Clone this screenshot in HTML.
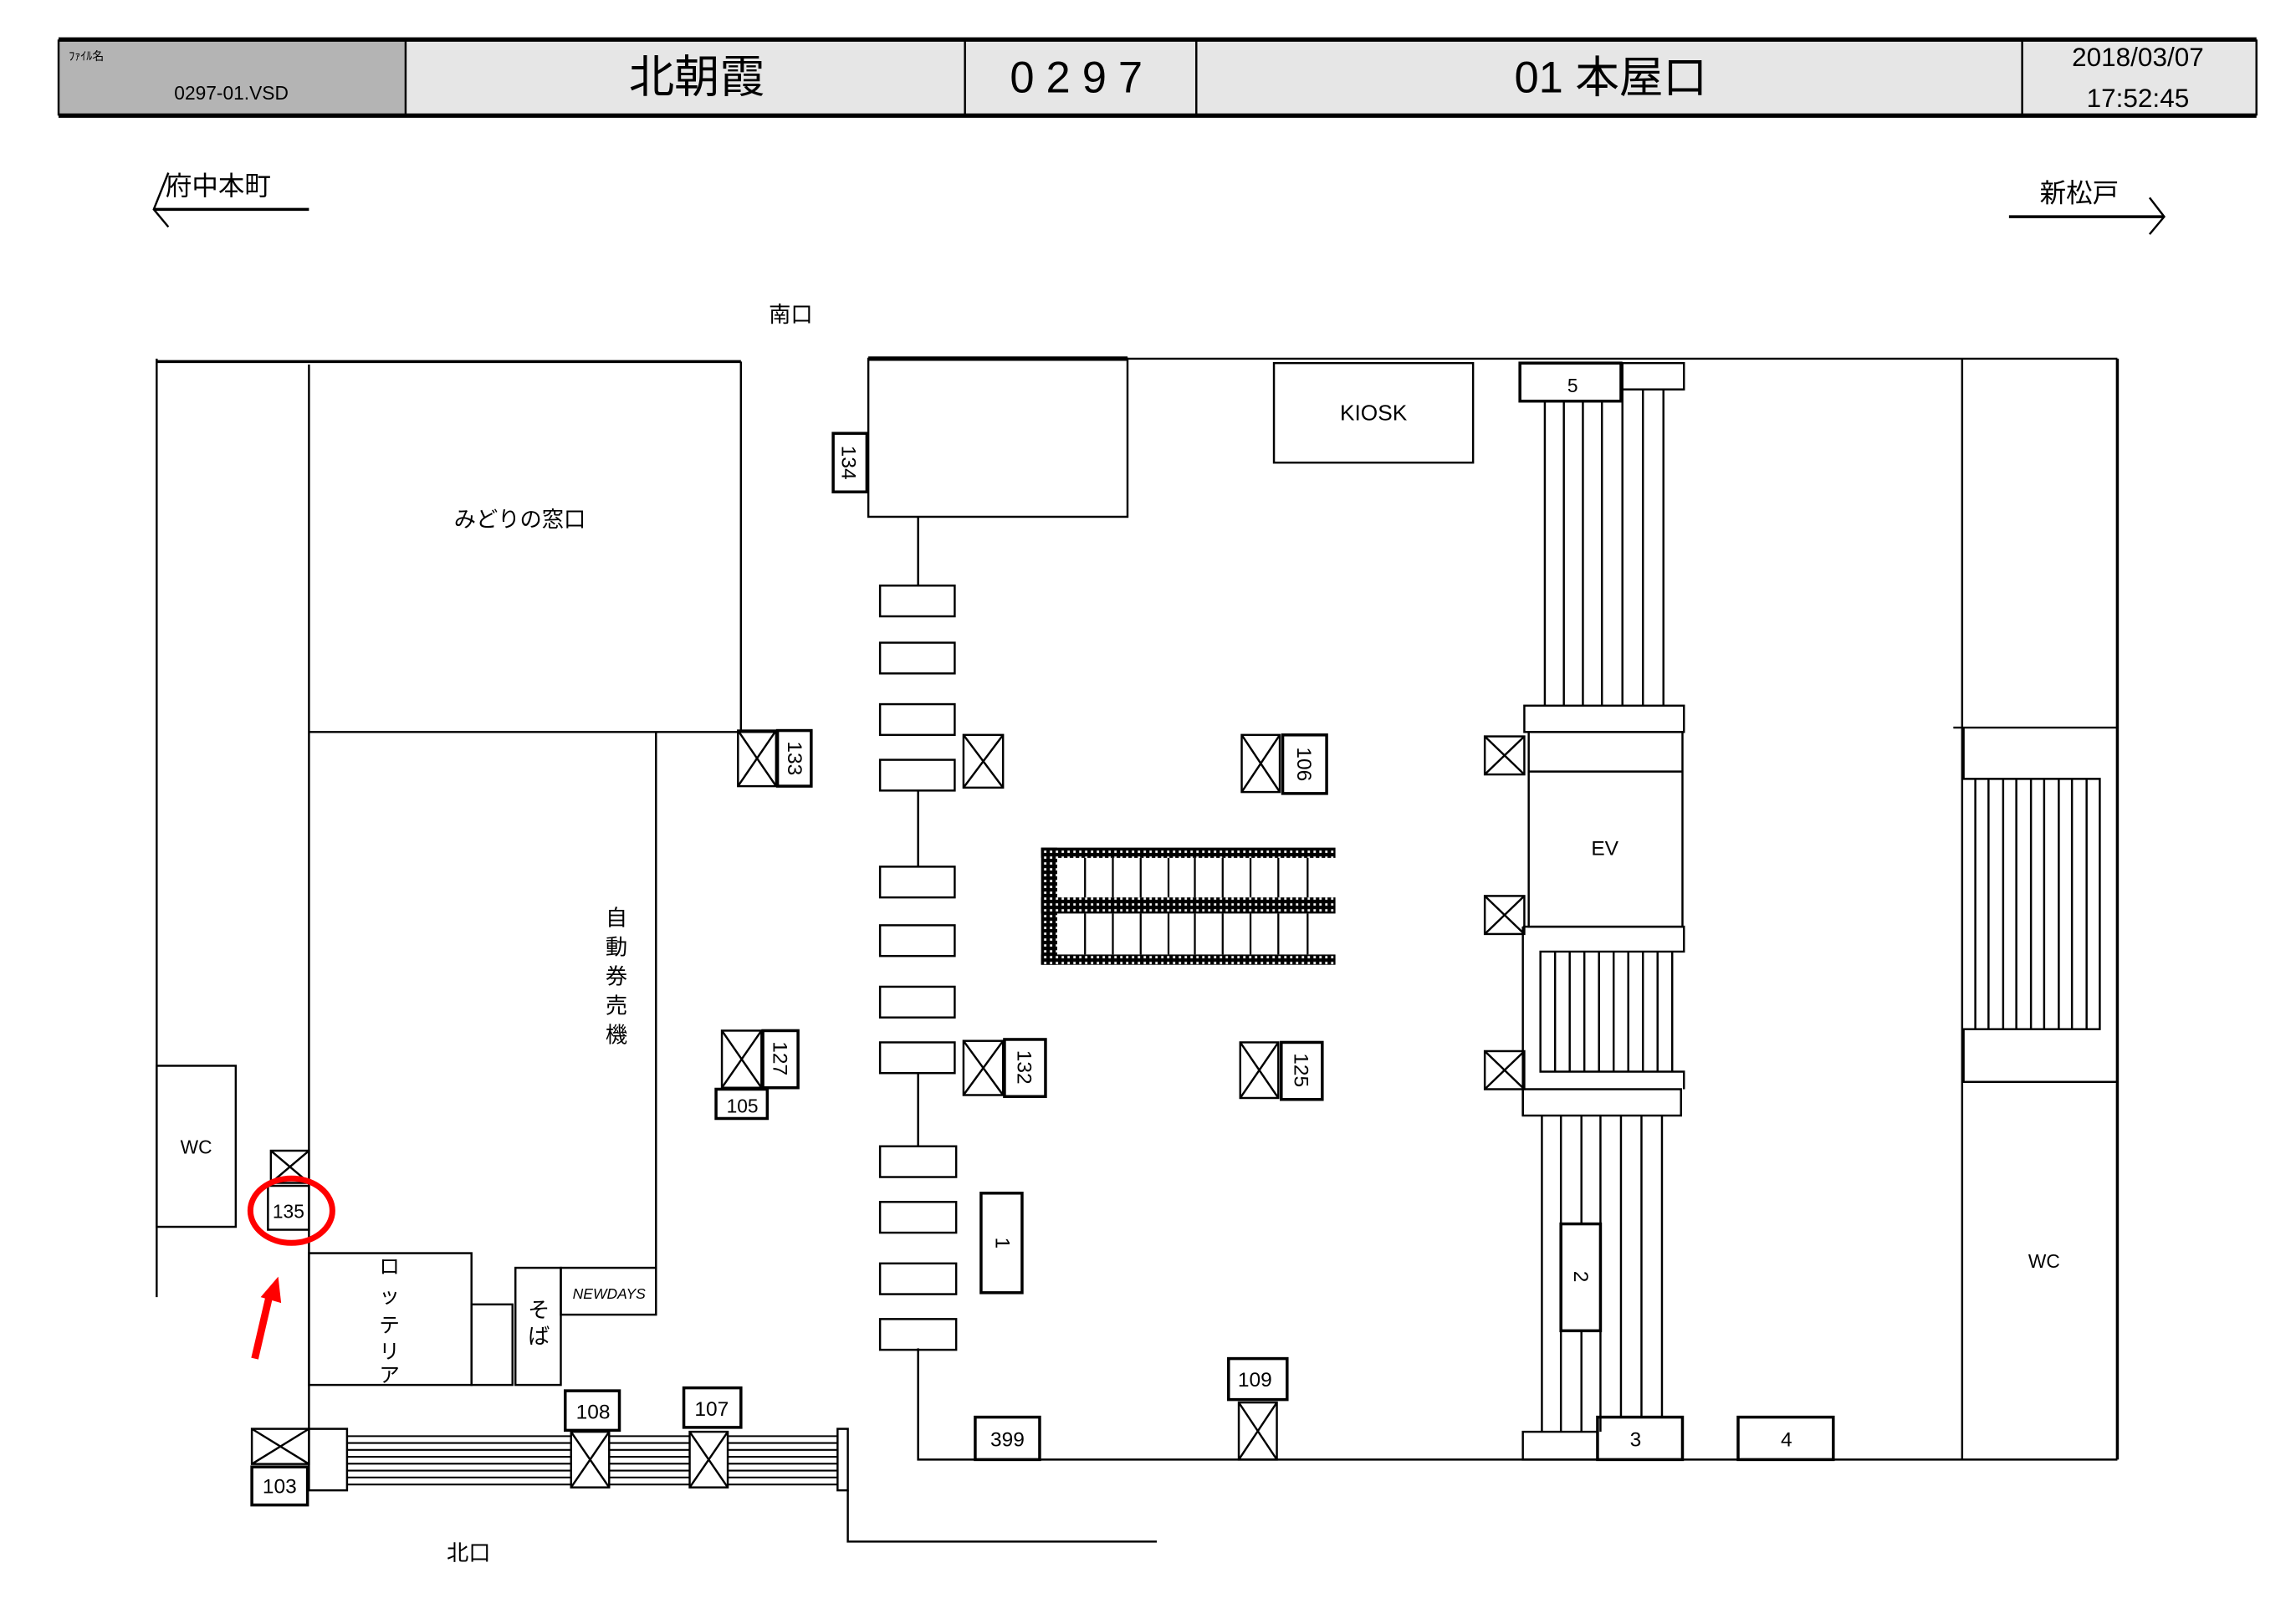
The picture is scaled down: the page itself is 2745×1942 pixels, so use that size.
<!DOCTYPE html>
<html><head><meta charset="utf-8"><style>
html,body{margin:0;padding:0;background:#fff;}
svg{display:block;}
text{font-family:"Liberation Sans","Noto Sans CJK JP",sans-serif;fill:#000;}
</style></head><body>
<svg width="2745" height="1942" viewBox="0 0 1568 1109.3" xmlns="http://www.w3.org/2000/svg">
<defs>
<pattern id="dots" width="4" height="4" patternUnits="userSpaceOnUse">
<rect width="4" height="4" fill="#000"/><rect x="1" y="1" width="1.6" height="1.6" fill="#fff"/>
</pattern>
</defs>
<g stroke="#000" fill="none" stroke-width="1.4">
<!-- header -->
<rect x="40" y="27" width="237" height="52" fill="#b4b4b4" stroke="none"/>
<rect x="277" y="27" width="1264" height="52" fill="#e6e6e6" stroke="none"/>
<line x1="40" y1="27" x2="1541" y2="27" stroke-width="3"/>
<line x1="40" y1="79" x2="1541" y2="79" stroke-width="3"/>
<line x1="40" y1="27" x2="40" y2="79"/>
<line x1="1541" y1="27" x2="1541" y2="79"/>
<line x1="277" y1="27" x2="277" y2="79"/>
<line x1="659" y1="27" x2="659" y2="79"/>
<line x1="817" y1="27" x2="817" y2="79"/>
<line x1="1381" y1="27" x2="1381" y2="79"/>
<!-- direction arrows -->
<line x1="105" y1="143" x2="211" y2="143" stroke-width="2"/>
<polyline points="115,118 105,143 115,155"/>
<line x1="1372" y1="148" x2="1478" y2="148" stroke-width="2"/>
<polyline points="1468,135 1478,148 1468,160"/>
<!-- left block -->
<line x1="107" y1="247" x2="506" y2="247" stroke-width="2"/>
<line x1="107" y1="245" x2="107" y2="886"/>
<line x1="211" y1="249" x2="211" y2="976"/>
<line x1="506" y1="247" x2="506" y2="500"/>
<line x1="211" y1="500" x2="530" y2="500"/>
<line x1="448" y1="500" x2="448" y2="866"/>
<rect x="107" y="728" width="54" height="110"/>
<rect x="185" y="786" width="26" height="22"/><path d="M185 786L211 808M211 786L185 808"/>
<rect x="183" y="810" width="28" height="30"/>
<rect x="211" y="856" width="111" height="90"/>
<rect x="322" y="891" width="28" height="55"/>
<rect x="352" y="866" width="31" height="80"/>
<rect x="383" y="866" width="65" height="32"/>
<!-- bottom escalator -->
<rect x="172" y="976" width="39" height="24"/><path d="M172 976L211 1000M211 976L172 1000"/>
<rect x="172" y="1002" width="38" height="26" stroke-width="2"/>
<rect x="211" y="976" width="26" height="42"/>
<g stroke-width="1.2">
<line x1="237" y1="981" x2="572" y2="981"/><line x1="237" y1="985.7" x2="572" y2="985.7"/>
<line x1="237" y1="990.4" x2="572" y2="990.4"/><line x1="237" y1="995.1" x2="572" y2="995.1"/>
<line x1="237" y1="999.8" x2="572" y2="999.8"/><line x1="237" y1="1004.5" x2="572" y2="1004.5"/>
<line x1="237" y1="1009.2" x2="572" y2="1009.2"/><line x1="237" y1="1014" x2="572" y2="1014"/>
</g>
<rect x="390" y="978" width="26" height="38" fill="#fff"/><path d="M390 978L416 1016M416 978L390 1016"/>
<rect x="386" y="950" width="37" height="27" stroke-width="2"/>
<rect x="471" y="978" width="26" height="38" fill="#fff"/><path d="M471 978L497 1016M497 978L471 1016"/>
<rect x="467" y="948" width="39" height="27" stroke-width="2"/>
<rect x="572" y="976" width="7" height="42"/>
<polyline points="579,1018 579,1053 790,1053"/>
<!-- middle -->
<line x1="770" y1="245" x2="1446" y2="245"/>
<rect x="593" y="245" width="177" height="108"/>
<line x1="593" y1="245" x2="770" y2="245" stroke-width="3"/>
<rect x="569" y="296" width="23" height="40" stroke-width="2"/>
<line x1="627" y1="353" x2="627" y2="400"/>
<line x1="627" y1="540" x2="627" y2="592"/>
<line x1="627" y1="733" x2="627" y2="783"/>
<polyline points="627,921 627,997 1446,997"/>
<rect x="601" y="400" width="51" height="21"/><rect x="601" y="439" width="51" height="21"/>
<rect x="601" y="481" width="51" height="21"/><rect x="601" y="519" width="51" height="21"/>
<rect x="601" y="592" width="51" height="21"/><rect x="601" y="632" width="51" height="21"/>
<rect x="601" y="674" width="51" height="21"/><rect x="601" y="712" width="51" height="21"/>
<rect x="601" y="783" width="52" height="21"/><rect x="601" y="821" width="52" height="21"/>
<rect x="601" y="863" width="52" height="21"/><rect x="601" y="901" width="52" height="21"/>
<!-- X boxes & labels -->
<rect x="504" y="499" width="26" height="38"/><path d="M504 499L530 537M530 499L504 537"/>
<rect x="531" y="499" width="23" height="38" stroke-width="2"/>
<rect x="658" y="502" width="27" height="36"/><path d="M658 502L685 538M685 502L658 538"/>
<rect x="848" y="502" width="26" height="39"/><path d="M848 502L874 541M874 502L848 541"/>
<rect x="876" y="502" width="30" height="40" stroke-width="2"/>
<rect x="493" y="704" width="27" height="39"/><path d="M493 704L520 743M520 704L493 743"/>
<rect x="521" y="704" width="24" height="39" stroke-width="2"/>
<rect x="489" y="744" width="35" height="20" stroke-width="2"/>
<rect x="658" y="711" width="27" height="37"/><path d="M658 711L685 748M685 711L658 748"/>
<rect x="686" y="710" width="28" height="39" stroke-width="2"/>
<rect x="847" y="712" width="26" height="38"/><path d="M847 712L873 750M873 712L847 750"/>
<rect x="875" y="712" width="28" height="39" stroke-width="2"/>
<rect x="670" y="815" width="28" height="68" stroke-width="2"/>
<rect x="839" y="928" width="40" height="28" stroke-width="2"/>
<rect x="846" y="958" width="26" height="39"/><path d="M846 958L872 997M872 958L846 997"/>
<rect x="666" y="968" width="44" height="29" stroke-width="2"/>
<!-- hatched escalator -->
<g stroke="none" fill="url(#dots)">
<rect x="711" y="579" width="201" height="7"/>
<rect x="711" y="613" width="201" height="11"/>
<rect x="711" y="652" width="201" height="7"/>
<rect x="711" y="579" width="11" height="80"/>
</g>
<g stroke-width="1.3">
<path d="M741 586V613M760 586V613M779 586V613M798 586V613M816 586V613M835 586V613M854 586V613M873 586V613M893 586V613"/>
<path d="M741 624V652M760 624V652M779 624V652M798 624V652M816 624V652M835 624V652M854 624V652M873 624V652M893 624V652"/>
</g>
<rect x="870" y="248" width="136" height="68"/>
<!-- right escalators -->
<rect x="1038" y="248" width="69" height="26" stroke-width="2"/>
<rect x="1108" y="248" width="42" height="18"/>
<path d="M1055 274V482M1068 274V482M1081 274V482M1094 274V482M1108 266V482M1122 266V482M1136 266V482"/>
<rect x="1041" y="482" width="109" height="18"/>
<rect x="1044" y="500" width="105" height="133"/>
<line x1="1044" y1="527" x2="1149" y2="527"/>
<rect x="1014" y="503" width="27" height="26"/><path d="M1014 503L1041 529M1041 503L1014 529"/>
<rect x="1014" y="612" width="27" height="26"/><path d="M1014 612L1041 638M1041 612L1014 638"/>
<rect x="1014" y="718" width="27" height="26"/><path d="M1014 718L1041 744M1041 718L1014 744"/>
<polyline points="1040,633 1150,633 1150,650 1052,650 1052,732 1150,732 1150,744"/>
<line x1="1040" y1="633" x2="1040" y2="762"/>
<path d="M1062 650V732M1072 650V732M1082 650V732M1092 650V732M1102 650V732M1112 650V732M1122 650V732M1132 650V732M1142 650V732"/>
<rect x="1040" y="744" width="108" height="18"/>
<path d="M1053 762V978M1066 762V978M1080 762V978M1093 762V978M1107 762V968M1121 762V968M1135 762V968"/>
<rect x="1066" y="836" width="27" height="73" fill="#fff" stroke-width="2"/>
<rect x="1040" y="978" width="51" height="19"/>
<rect x="1091" y="968" width="58" height="29" stroke-width="2"/>
<rect x="1187" y="968" width="65" height="29" stroke-width="2"/>
<!-- far right -->
<line x1="1340" y1="245" x2="1340" y2="997"/>
<line x1="1446" y1="245" x2="1446" y2="997" stroke-width="2"/>
<polyline points="1334,497 1446,497"/>
<polyline points="1341,497 1341,532 1434,532 1434,703 1341,703 1341,739 1446,739"/>
<path d="M1349 532V703M1358 532V703M1368 532V703M1377 532V703M1387 532V703M1396 532V703M1406 532V703M1415 532V703M1425 532V703"/>
<!-- red marks -->
<ellipse cx="199" cy="827" rx="28" ry="22" stroke="#f00" stroke-width="4"/>
<line x1="174" y1="928" x2="184" y2="885" stroke="#f00" stroke-width="5"/>
<polygon points="178,886 190,872 192,890" fill="#f00" stroke="none"/>
</g>
<!-- texts -->
<text x="47" y="41" font-size="8">ﾌｧｲﾙ名</text>
<text x="158" y="68" font-size="13" text-anchor="middle">0297-01.VSD</text>
<text x="476" y="63" font-size="31" text-anchor="middle">北朝霞</text>
<text x="739" y="63" font-size="30" text-anchor="middle" letter-spacing="8">0297</text>
<text x="1100" y="63" font-size="30" text-anchor="middle">01 本屋口</text>
<text x="1460" y="45" font-size="18" text-anchor="middle">2018/03/07</text>
<text x="1460" y="73" font-size="18" text-anchor="middle">17:52:45</text>
<text x="113" y="133" font-size="18">府中本町</text>
<text x="1393" y="138" font-size="18">新松戸</text>
<text x="540" y="220" font-size="15" text-anchor="middle">南口</text>
<text x="320" y="1066" font-size="15" text-anchor="middle">北口</text>
<text x="355" y="360" font-size="15" text-anchor="middle">みどりの窓口</text>
<g font-size="15" text-anchor="middle"><text x="421" y="632">自</text><text x="421" y="652">動</text><text x="421" y="672">券</text><text x="421" y="692">売</text><text x="421" y="712">機</text></g>
<g font-size="14" text-anchor="middle"><text x="266" y="870">ロ</text><text x="266" y="890">ッ</text><text x="266" y="910">テ</text><text x="266" y="928">リ</text><text x="266" y="944">ア</text></g>
<g font-size="15" text-anchor="middle"><text x="368" y="900">そ</text><text x="368" y="918">ば</text></g>
<text x="416" y="887" font-size="10" font-style="italic" text-anchor="middle">NEWDAYS</text>
<text x="134" y="788" font-size="13" text-anchor="middle">WC</text>
<text x="1396" y="866" font-size="13" text-anchor="middle">WC</text>
<text x="938" y="287" font-size="15" text-anchor="middle">KIOSK</text>
<text x="1096" y="584" font-size="14" text-anchor="middle">EV</text>
<text x="197" y="832" font-size="13" text-anchor="middle">135</text>
<text x="191" y="1020" font-size="14" text-anchor="middle">103</text>
<text x="405" y="969" font-size="14" text-anchor="middle">108</text>
<text x="486" y="967" font-size="14" text-anchor="middle">107</text>
<text x="507" y="760" font-size="13" text-anchor="middle">105</text>
<text x="857" y="947" font-size="14" text-anchor="middle">109</text>
<text x="688" y="988" font-size="14" text-anchor="middle">399</text>
<text x="1074" y="268" font-size="13" text-anchor="middle">5</text>
<text x="1117" y="988" font-size="14" text-anchor="middle">3</text>
<text x="1220" y="988" font-size="14" text-anchor="middle">4</text>
<g font-size="14" text-anchor="middle">
<text transform="translate(575,316) rotate(90)">134</text>
<text transform="translate(538,518) rotate(90)">133</text>
<text transform="translate(886,522) rotate(90)">106</text>
<text transform="translate(528,723) rotate(90)">127</text>
<text transform="translate(695,729) rotate(90)">132</text>
<text transform="translate(884,731) rotate(90)">125</text>
<text transform="translate(680,849) rotate(90)">1</text>
<text transform="translate(1075,872) rotate(90)">2</text>
</g>
</svg>
</body></html>
